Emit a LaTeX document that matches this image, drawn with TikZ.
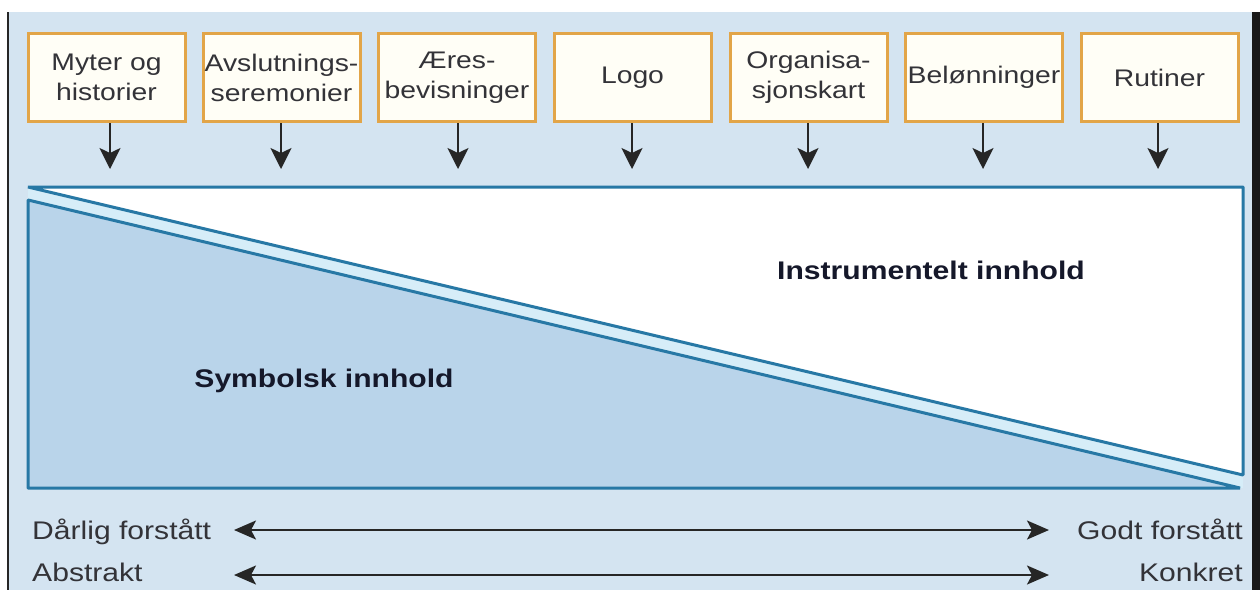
\documentclass[tikz,border=0pt]{standalone}
\usepackage{fontspec}
\setmainfont{Liberation Sans}[FakeStretch=1.18]
\usetikzlibrary{arrows.meta}
\definecolor{panelbg}{HTML}{D4E4F1}
\definecolor{symfill}{HTML}{B9D4EA}
\definecolor{stripe}{HTML}{D6EDF8}
\definecolor{edgeblue}{HTML}{2778A5}
\definecolor{boxedge}{HTML}{E2A548}
\definecolor{boxfill}{HTML}{FFFEF6}
\definecolor{txt}{HTML}{333338}
\definecolor{boldtxt}{HTML}{15182A}
\tikzset{
  topbox/.style={draw=boxedge, line width=3pt, fill=boxfill, minimum width=157pt, minimum height=88pt,
    align=center, inner sep=0pt, text=txt, font=\fontsize{24}{30}\selectfont},
  downarrow/.style={line width=2pt, draw=black!85, -{Stealth[length=21pt,width=21pt,inset=5pt]}},
  scalearrow/.style={line width=2pt, draw=black!85, {Stealth[length=22pt,width=19pt,inset=5pt]}-{Stealth[length=22pt,width=19pt,inset=5pt]}},
  scaletext/.style={inner sep=0pt, text=txt, font=\fontsize{25.5}{30}\selectfont},
  bigtext/.style={inner sep=0pt, text=boldtxt, font=\fontsize{25.5}{30}\selectfont\bfseries},
  tri/.style={line width=3pt, draw=edgeblue, line join=bevel}
}
\begin{document}
\begin{tikzpicture}[x=1pt,y=-1pt]
\useasboundingbox (0,0) rectangle (1260,590);
% background
\fill[white] (0,0) rectangle (1260,590);
\fill[panelbg] (8,12) rectangle (1252,590);
\draw[line width=1.5pt, black!85] (8,12) -- (8,590);
\fill[black!90] (1252,12) rectangle (1260,590);
% triangles
\fill[stripe] (28,187) rectangle (1243,488);
\filldraw[tri, fill=white] (28,187) -- (1243,187) -- (1243,475) -- cycle;
\filldraw[tri, fill=symfill] (28,200) -- (1240,488) -- (28,488) -- cycle;
\node[bigtext] (instr) at (931,270) {Instrumentelt innhold};
\node[bigtext] (symb) at (324,381) {Symbolsk innhold};
% boxes
\node[topbox] (b1) at (106.5,77.5) {Myter og\\historier};
\node[topbox] (b2) at (281.5,77.5) {Avslutnings-\\seremonier};
\node[topbox] (b3) at (457,77.5) {Æres-\\bevisninger};
\node[topbox] (b4) at (632.5,77.5) {Logo};
\node[topbox] (b5) at (808.5,77.5) {Organisa-\\sjonskart};
\node[topbox] (b6) at (984,77.5) {Belønninger};
\node[topbox] (b7) at (1159.5,77.5) {Rutiner};
\foreach \i/\x in {1/110,2/281,3/458,4/632,5/808,6/983,7/1158}{
  \coordinate (a\i) at (\x,169);
  \draw[downarrow] (b\i.south -| a\i) -- (a\i);
}
% bottom scales
\node[scaletext, anchor=base west] (l1) at (32,539) {Dårlig forstått};
\node[scaletext, anchor=base east] (r1) at (1243,539) {Godt forstått};
\node[scaletext, anchor=base west] (l2) at (32,581) {Abstrakt};
\node[scaletext, anchor=base east] (r2) at (1243,581) {Konkret};
\coordinate (s1) at (234,530);
\coordinate (e1) at (1049,530);
\coordinate (s2) at (234,575);
\coordinate (e2) at (1049,575);
\draw[scalearrow] (s1) -- (e1);
\draw[scalearrow] (s2) -- (e2);
\end{tikzpicture}
\end{document}
